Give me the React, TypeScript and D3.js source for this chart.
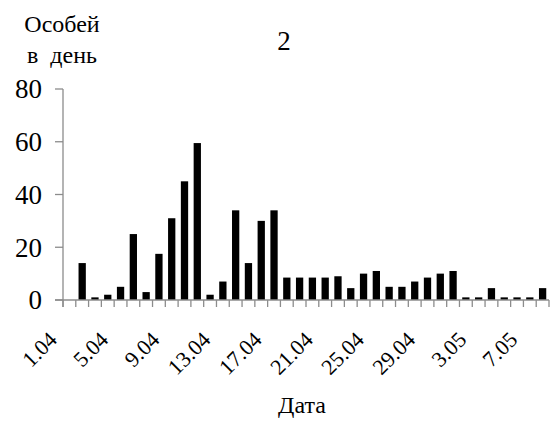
import React from "react";
import * as d3 from "d3";

const dates = [
  "1.04", "2.04", "3.04", "4.04", "5.04", "6.04", "7.04", "8.04", "9.04", "10.04",
  "11.04", "12.04", "13.04", "14.04", "15.04", "16.04", "17.04", "18.04", "19.04", "20.04",
  "21.04", "22.04", "23.04", "24.04", "25.04", "26.04", "27.04", "28.04", "29.04", "30.04",
  "1.05", "2.05", "3.05", "4.05", "5.05", "6.05", "7.05", "8.05",
];
const counts = [
  0, 14, 1, 2, 5, 25, 3, 17.5, 31, 45,
  59.5, 2, 7, 34, 14, 30, 34, 8.5, 8.5, 8.5,
  8.5, 9, 4.5, 10, 11, 5, 5, 7, 8.5, 10,
  11, 1, 1, 4.5, 1, 1, 1, 4.5,
];
const labeledDates = ["1.04", "5.04", "9.04", "13.04", "17.04", "21.04", "25.04", "29.04", "3.05", "7.05"];
const yTicks = [0, 20, 40, 60, 80];

const W = 553;
const H = 425;
const FONT = "Liberation Serif, DejaVu Serif, serif";
const AXIS = "#8c8c8c";

const txt = { fontFamily: FONT };

export default function App() {
  const x = d3.scaleBand<string>().domain(dates).range([63, 549]).paddingInner(0.43).paddingOuter(0.215);
  const y = d3.scaleLinear().domain([0, 80]).range([300, 89]);
  const step = x.step();
  const x0 = 63;
  const y0 = y(0);

  return (
    <svg width={W} height={H} style={{ position: "absolute", left: 0, top: 0, background: "#fff", fontFamily: FONT }}>
      <rect width={W} height={H} fill="#fff" />
      <text x={284} y={50} fontSize={27} textAnchor="middle" fill="#000" style={txt}>2</text>
      <text x={62} y={32} fontSize={24} textAnchor="middle" fill="#000" style={txt}>Особей</text>
      <text x={62} y={63} fontSize={24} textAnchor="middle" fill="#000" style={{ ...txt, whiteSpace: "pre" }}>в  день</text>
      {dates.map((d, i) => (
        <rect key={d} x={x(d)} y={y(counts[i])} width={x.bandwidth()} height={y0 - y(counts[i])} fill="#000" />
      ))}
      <line x1={x0} x2={x0} y1={y(80)} y2={y0 + 7} stroke={AXIS} strokeWidth={1.3} />
      {yTicks.map((t) => (
        <g key={t}>
          <line x1={x0 - 8} x2={x0} y1={y(t)} y2={y(t)} stroke={AXIS} strokeWidth={1.3} />
          <text x={42} y={y(t)} dy="0.35em" fontSize={27} textAnchor="end" fill="#000" style={txt}>{t}</text>
        </g>
      ))}
      <line x1={x0 - 8} x2={549} y1={y0} y2={y0} stroke={AXIS} strokeWidth={1.3} />
      {d3.range(dates.length + 1).map((i) => (
        <line key={i} x1={x0 + i * step} x2={x0 + i * step} y1={y0} y2={y0 + 7} stroke={AXIS} strokeWidth={1.3} />
      ))}
      {labeledDates.map((d) => {
        const cx = (x(d) as number) + x.bandwidth() / 2 - 11;
        const cy = 341;
        return (
          <text key={d} x={cx} y={cy} fontSize={22} textAnchor="end" fill="#000" style={txt} transform={`rotate(-45 ${cx} ${cy})`}>
            {d}
          </text>
        );
      })}
      <text x={302} y={413} fontSize={24} textAnchor="middle" fill="#000" style={txt}>Дата</text>
    </svg>
  );
}
